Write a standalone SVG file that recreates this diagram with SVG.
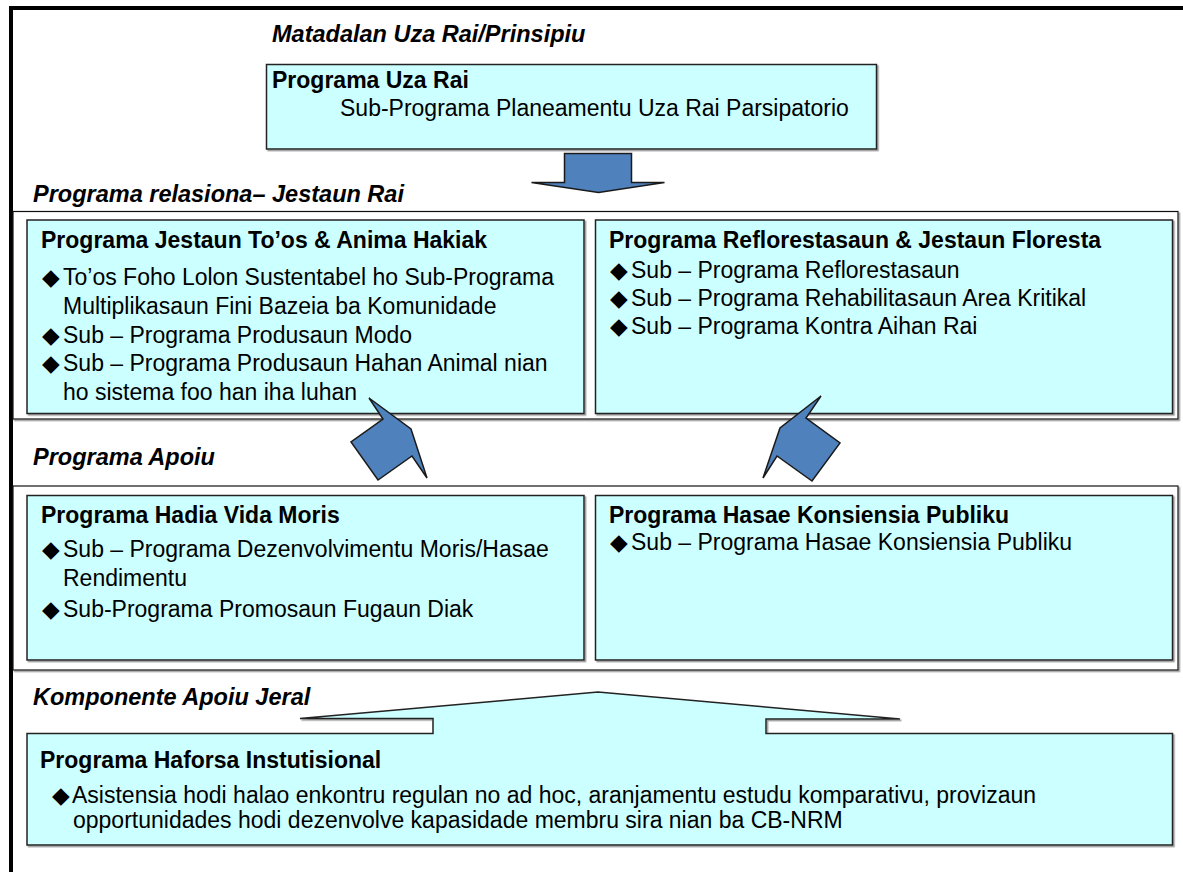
<svg xmlns="http://www.w3.org/2000/svg" width="1183" height="872" viewBox="0 0 1183 872">
  <style>
    text { font-family: "Liberation Sans", "DejaVu Sans", Arial, sans-serif; font-size: 23px; fill: #000; }
    .h { font-weight: bold; font-style: italic; font-size: 23.5px; }
    .b { font-weight: bold; }
    .box { fill: #CCFFFF; stroke: #222; stroke-width: 1.5; filter: url(#shadow); }
    .frame { fill: #FFFFFF; stroke: #111; stroke-width: 1.2; filter: url(#shadow); }
    .arrow { fill: #4F81BD; stroke: #1a1a1a; stroke-width: 1.5; stroke-linejoin: miter; }
  </style>
  <defs>
    <filter id="shadow" x="-2%" y="-2%" width="104%" height="106%">
      <feDropShadow dx="1.5" dy="1.5" stdDeviation="0.4" flood-color="#808080" flood-opacity="0.8"/>
    </filter>
  </defs>
  <rect x="0" y="0" width="1183" height="872" fill="#FFFFFF"/>
  <path d="M11,874 V8 H1190" fill="none" stroke="#000" stroke-width="4"/>

  <g id="top">
    <text class="h" x="272" y="42">Matadalan Uza Rai/Prinsipiu</text>
    <rect class="box" x="266.5" y="64.5" width="610" height="84.5"/>
    <text class="b" x="272" y="88">Programa Uza Rai</text>
    <text x="340" y="116">Sub-Programa Planeamentu Uza Rai Parsipatorio</text>
  </g>

  <g id="group-relasiona">
    <text class="h" x="33" y="202">Programa relasiona– Jestaun Rai</text>
    <rect class="frame" x="13" y="211.5" width="1165" height="207.5"/>
  </g>

  <g id="node-jestaun-toos">
    <rect class="box" x="27" y="220" width="557" height="193.5"/>
    <text class="b" x="41" y="248">Programa Jestaun To’os &amp; Anima Hakiak</text>
    <text x="42" y="285">◆<tspan x="63">To’os Foho Lolon Sustentabel ho Sub-Programa</tspan></text>
    <text x="63" y="314">Multiplikasaun Fini Bazeia ba Komunidade</text>
    <text x="42" y="343">◆<tspan x="63">Sub – Programa Produsaun Modo</tspan></text>
    <text x="42" y="371">◆<tspan x="63">Sub – Programa Produsaun Hahan Animal nian</tspan></text>
    <text x="63" y="400">ho sistema foo han iha luhan</text>
  </g>

  <g id="node-reflorestasaun">
    <rect class="box" x="595.5" y="220" width="577" height="193.5"/>
    <text class="b" x="609" y="248">Programa Reflorestasaun &amp; Jestaun Floresta</text>
    <text x="610" y="278">◆<tspan x="631">Sub – Programa Reflorestasaun</tspan></text>
    <text x="610" y="306">◆<tspan x="631">Sub – Programa Rehabilitasaun Area Kritikal</tspan></text>
    <text x="610" y="334">◆<tspan x="631">Sub – Programa Kontra Aihan Rai</tspan></text>
  </g>

  <g id="group-apoiu">
    <text class="h" x="33" y="465">Programa Apoiu</text>
    <rect class="frame" x="13" y="486" width="1165" height="184"/>
  </g>

  <g id="node-hadia-vida">
    <rect class="box" x="27" y="495.5" width="557" height="164.5"/>
    <text class="b" x="41" y="523">Programa Hadia Vida Moris</text>
    <text x="42" y="557">◆<tspan x="63">Sub – Programa Dezenvolvimentu Moris/Hasae</tspan></text>
    <text x="63" y="586">Rendimentu</text>
    <text x="42" y="617">◆<tspan x="63">Sub-Programa Promosaun Fugaun Diak</tspan></text>
  </g>

  <g id="node-konsiensia">
    <rect class="box" x="595.5" y="495.5" width="577" height="164.5"/>
    <text class="b" x="609" y="523">Programa Hasae Konsiensia Publiku</text>
    <text x="610" y="550">◆<tspan x="631">Sub – Programa Hasae Konsiensia Publiku</tspan></text>
  </g>

  <g id="node-haforsa">
    <text class="h" x="33" y="705">Komponente Apoiu Jeral</text>
    <polygon class="box" points="27,733.5 433,733.5 433,718.5 300,718.5 598,692 900,719 766,719 766,733.5 1172.5,733.5 1172.5,845 27,845"/>
    <text class="b" x="40" y="768">Programa Haforsa Instutisional</text>
    <text x="52" y="803">◆<tspan x="72">Asistensia hodi halao enkontru regulan no ad hoc, aranjamentu estudu komparativu, provizaun</tspan></text>
    <text x="73" y="828">opportunidades hodi dezenvolve kapasidade membru sira nian ba CB-NRM</text>
  </g>

  <g id="connectors">
    <polygon class="arrow" points="564.5,153.5 631.5,153.5 631.5,182.5 664.5,182.5 598.5,192.5 531.5,182.5 564.5,182.5"/>
    <polygon class="arrow" points="369,398 411,429 427,478 412,456 378,480 351,442 383,419"/>
    <polygon class="arrow" points="821,396 806,418 840,443 812,481 777,456 763,478 780,428"/>
  </g>
</svg>
